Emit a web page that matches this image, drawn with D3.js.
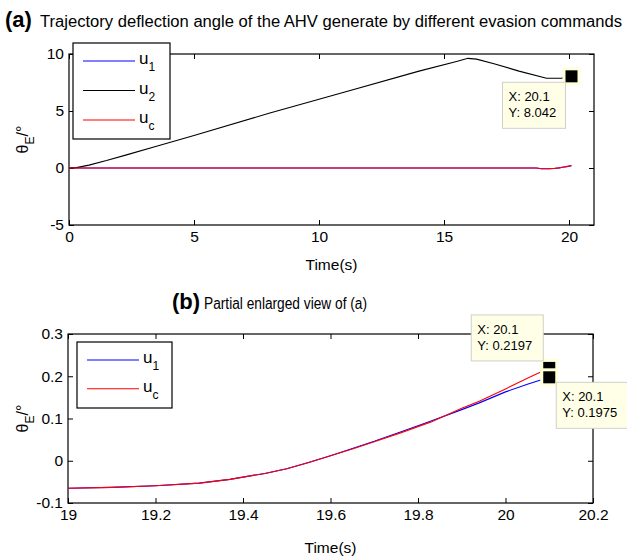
<!DOCTYPE html>
<html>
<head>
<meta charset="utf-8">
<script src="https://cdn.jsdelivr.net/npm/d3@7"></script>
<style>
  body { margin: 0; background: #fff; }
  text { font-family: "Liberation Sans", Arial, sans-serif; }
</style>
</head>
<body>
<div id="chart"></div>
<script>
const width = 627, height = 558;

// panel (a) data
const timeA2 = [0, 0.3, 0.8, 1.5, 2.3, 3.5, 5, 8, 11, 14, 15.5, 15.96, 16.3, 17, 18, 19.1, 19.7, 20.1];
const u2A = [0, 0.03, 0.25, 0.65, 1.15, 1.9, 2.85, 4.8, 6.65, 8.5, 9.35, 9.62, 9.55, 9.15, 8.5, 7.87, 7.87, 8.042];
const timeA1 = [0, 18.7, 18.9, 19.2, 19.4, 19.6, 19.8, 19.9, 20, 20.1];
const u1A = [0, 0, -0.065, -0.059, -0.04, 0.012, 0.085, 0.121, 0.163, 0.1975];
const ucA = [0, 0, -0.065, -0.059, -0.04, 0.012, 0.083, 0.124, 0.167, 0.2197];

// panel (b) data
const timeB = [19, 19.1, 19.2, 19.3, 19.37, 19.45, 19.5, 19.55, 19.6, 19.65, 19.7, 19.76, 19.83, 19.9, 19.94, 20, 20.05, 20.1];
const u1B = [-0.065, -0.063, -0.059, -0.053, -0.044, -0.03, -0.019, -0.004, 0.012, 0.029, 0.046, 0.068, 0.094, 0.121, 0.137, 0.163, 0.181, 0.1975];
const ucB = [-0.065, -0.063, -0.059, -0.053, -0.044, -0.03, -0.019, -0.004, 0.012, 0.028, 0.045, 0.066, 0.092, 0.124, 0.141, 0.17, 0.195, 0.2197];

const ticksAX = [0, 5, 10, 15, 20];
const ticksAY = [-5, 0, 5, 10];
const ticksBX = [19, 19.2, 19.4, 19.6, 19.8, 20, 20.2];
const ticksBY = [-0.1, 0, 0.1, 0.2, 0.3];

const svg = d3.select("#chart").append("svg")
  .attr("width", width).attr("height", height)
  .style("background", "#fff");

function panel(opt) {
  const x = d3.scaleLinear().domain(opt.xDom).range([opt.left, opt.right]);
  const y = d3.scaleLinear().domain(opt.yDom).range([opt.bottom, opt.top]);
  const g = svg.append("g");

  const fmt = d => String(+d.toFixed(2));
  const axB = g.append("g").attr("transform", `translate(0,${opt.bottom})`)
    .call(d3.axisBottom(x).tickValues(opt.xTicks).tickSize(-5).tickPadding(6).tickFormat(fmt));
  const axT = g.append("g").attr("transform", `translate(0,${opt.top})`)
    .call(d3.axisTop(x).tickValues(opt.xTicks).tickSize(-5).tickFormat(""));
  const axL = g.append("g").attr("transform", `translate(${opt.left},0)`)
    .call(d3.axisLeft(y).tickValues(opt.yTicks).tickSize(-5).tickPadding(5).tickFormat(fmt));
  const axR = g.append("g").attr("transform", `translate(${opt.right},0)`)
    .call(d3.axisRight(y).tickValues(opt.yTicks).tickSize(-5).tickFormat(""));
  [axB, axT, axL, axR].forEach(a => {
    a.select(".domain").remove();
    a.selectAll("line").attr("stroke", "#000");
    a.selectAll("text").attr("fill", "#000").style("font-size", "15.5px")
      .style("font-family", "'Liberation Sans', Arial, sans-serif");
  });

  g.append("rect")
    .attr("x", opt.left).attr("y", opt.top)
    .attr("width", opt.right - opt.left).attr("height", opt.bottom - opt.top)
    .attr("fill", "none").attr("stroke", "#000").attr("stroke-width", 1.2);

  const line = d3.line().x(d => x(d[0])).y(d => y(d[1]));
  opt.series.forEach(s => {
    g.append("path")
      .datum(d3.zip(s.t, s.v))
      .attr("d", line)
      .attr("fill", "none")
      .attr("stroke", s.color)
      .attr("stroke-width", 1.1);
  });

  // x label
  g.append("text")
    .attr("x", (opt.left + opt.right) / 2).attr("y", opt.bottom + opt.xLabelDy)
    .attr("text-anchor", "middle").style("font-size", "15.5px")
    .text("Time(s)");

  // y label
  const yl = g.append("text")
    .attr("transform", `translate(28,${(opt.top + opt.bottom) / 2}) rotate(-90)`)
    .attr("text-anchor", "middle").style("font-size", "16px");
  yl.append("tspan").text("θ");
  yl.append("tspan").attr("dy", 6).style("font-size", "12px").text("E");
  yl.append("tspan").attr("dy", -6).text("/°");

  // legend
  const lg = opt.legend;
  g.append("rect")
    .attr("x", lg.x).attr("y", lg.y).attr("width", lg.w).attr("height", lg.h)
    .attr("fill", "#fff").attr("stroke", "#000").attr("stroke-width", 1.2);
  lg.items.forEach((it, i) => {
    const ly = lg.y + lg.first + i * lg.step;
    g.append("line")
      .attr("x1", lg.x + 10).attr("x2", lg.x + 62)
      .attr("y1", ly).attr("y2", ly)
      .attr("stroke", it.color).attr("stroke-width", 1.1);
    const t = g.append("text").attr("x", lg.x + 66).attr("y", ly + 3)
      .style("font-size", "17px");
    t.append("tspan").text("u");
    t.append("tspan").attr("dy", 7).style("font-size", "12px").text(it.sub);
  });

  // data tips
  opt.tips.forEach(tp => {
    const px = x(tp.t), py = y(tp.v);
    g.append("rect")
      .attr("x", px - 9).attr("y", py - 9).attr("width", 18).attr("height", 18)
      .attr("fill", "#ffffd8");
    g.append("rect")
      .attr("x", px - 6).attr("y", py - 6).attr("width", 12).attr("height", 12)
      .attr("fill", "#000");
  });
  opt.tips.forEach(tp => {
    const px = x(tp.t), py = y(tp.v);
    const bx = px + tp.dx, by = py + tp.dy;
    g.append("rect")
      .attr("x", bx).attr("y", by).attr("width", tp.w).attr("height", 46)
      .attr("fill", "#ffffe8").attr("stroke", "#d0d0c8").attr("stroke-width", 1);
    g.append("text").attr("x", bx + 6).attr("y", by + 19)
      .style("font-size", "13px").text("X: " + tp.t);
    g.append("text").attr("x", bx + 6).attr("y", by + 35)
      .style("font-size", "13px").text("Y: " + tp.v);
  });
}

panel({
  xDom: [0, 21], yDom: [-5, 10],
  left: 69, right: 594, top: 54, bottom: 225,
  xTicks: ticksAX, yTicks: ticksAY, xLabelDy: 45,
  series: [
    { t: timeA1, v: u1A, color: "#0000ff" },
    { t: timeA2, v: u2A, color: "#000000" },
    { t: timeA1, v: ucA, color: "#ff0000" }
  ],
  legend: { x: 73, y: 43, w: 97, h: 96, first: 18, step: 29.5,
    items: [{ color: "#0000ff", sub: "1" }, { color: "#000000", sub: "2" }, { color: "#ff0000", sub: "c" }] },
  tips: [{ t: 20.1, v: 8.042, dx: -69, dy: 6, w: 63 }]
});

panel({
  xDom: [19, 20.2], yDom: [-0.1, 0.3],
  left: 68, right: 593, top: 334, bottom: 503,
  xTicks: ticksBX, yTicks: ticksBY, xLabelDy: 50,
  series: [
    { t: timeB, v: u1B, color: "#0000ff" },
    { t: timeB, v: ucB, color: "#ff0000" }
  ],
  legend: { x: 77, y: 342, w: 95, h: 66, first: 18, step: 28.7,
    items: [{ color: "#0000ff", sub: "1" }, { color: "#ff0000", sub: "c" }] },
  tips: [
    { t: 20.1, v: 0.2197, dx: -78, dy: -53, w: 72 },
    { t: 20.1, v: 0.1975, dx: 7, dy: 5, w: 76 }
  ]
});

// titles
const t1 = svg.append("text").attr("x", 5).attr("y", 27);
t1.append("tspan").style("font-size", "22px").style("font-weight", "bold").text("(a)");
svg.append("text").attr("x", 40).attr("y", 27).style("font-size", "16px")
  .attr("textLength", 582).attr("lengthAdjust", "spacingAndGlyphs")
  .text("Trajectory deflection angle of the AHV generate by different evasion commands");

svg.append("text").attr("x", 172).attr("y", 309)
  .style("font-size", "22px").style("font-weight", "bold").text("(b)");
svg.append("text").attr("x", 204).attr("y", 309).style("font-size", "16px")
  .attr("textLength", 163).attr("lengthAdjust", "spacingAndGlyphs")
  .text("Partial enlarged view of (a)");
</script>
</body>
</html>
